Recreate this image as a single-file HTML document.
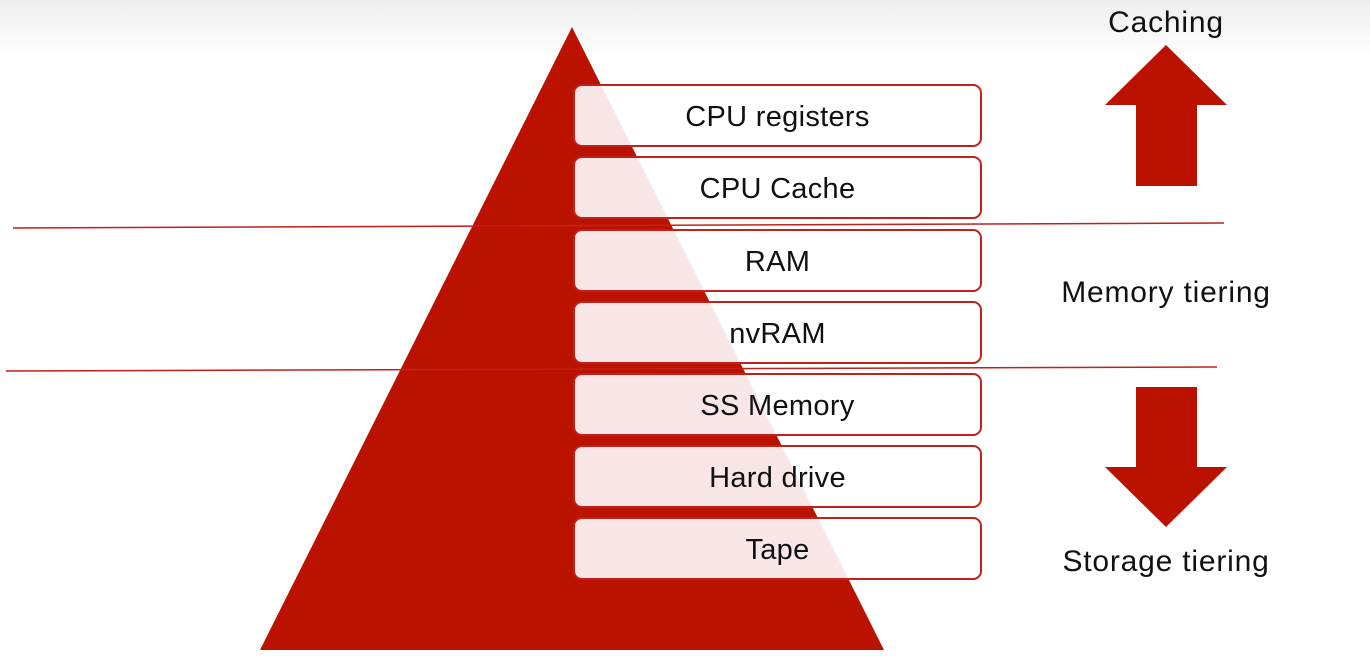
<!DOCTYPE html>
<html><head><style>
html,body{margin:0;padding:0}
body{width:1370px;height:662px;overflow:hidden;background:linear-gradient(#efefef 0px,#fff 60px,#fff 100%);position:relative;font-family:"Liberation Sans",sans-serif}
.b{position:absolute;left:573px;width:405px;height:59px;border:2px solid #c0211a;border-radius:9px;background:rgba(255,255,255,0.9);box-sizing:content-box;text-align:center;line-height:63px;font-size:29px;color:#111;letter-spacing:0.3px}
.t{position:absolute;width:340px;left:996px;text-align:center;font-size:30px;color:#111;letter-spacing:0.8px}
</style></head><body>
<svg width="1370" height="662" style="position:absolute;left:0;top:0">
<polygon points="572,27 260,650 884,650" fill="#bb1200"/>
<line x1="13" y1="228" x2="1224" y2="223" stroke="#c0211a" stroke-width="1.5"/>
<line x1="6" y1="371" x2="1217" y2="367" stroke="#c0211a" stroke-width="1.5"/>
<polygon points="1166,45 1227,105 1197,105 1197,186 1136,186 1136,105 1105,105" fill="#bb1200"/>
<polygon points="1136,387 1197,387 1197,467 1227,467 1166,527 1105,467 1136,467" fill="#bb1200"/>
</svg>
<div class="b" style="top:84px">CPU registers</div>
<div class="b" style="top:156px">CPU Cache</div>
<div class="b" style="top:229px">RAM</div>
<div class="b" style="top:301px">nvRAM</div>
<div class="b" style="top:373px">SS Memory</div>
<div class="b" style="top:445px">Hard drive</div>
<div class="b" style="top:517px">Tape</div>
<div class="t" style="top:6px">Caching</div>
<div class="t" style="top:276px">Memory tiering</div>
<div class="t" style="top:545px">Storage tiering</div>
</body></html>
